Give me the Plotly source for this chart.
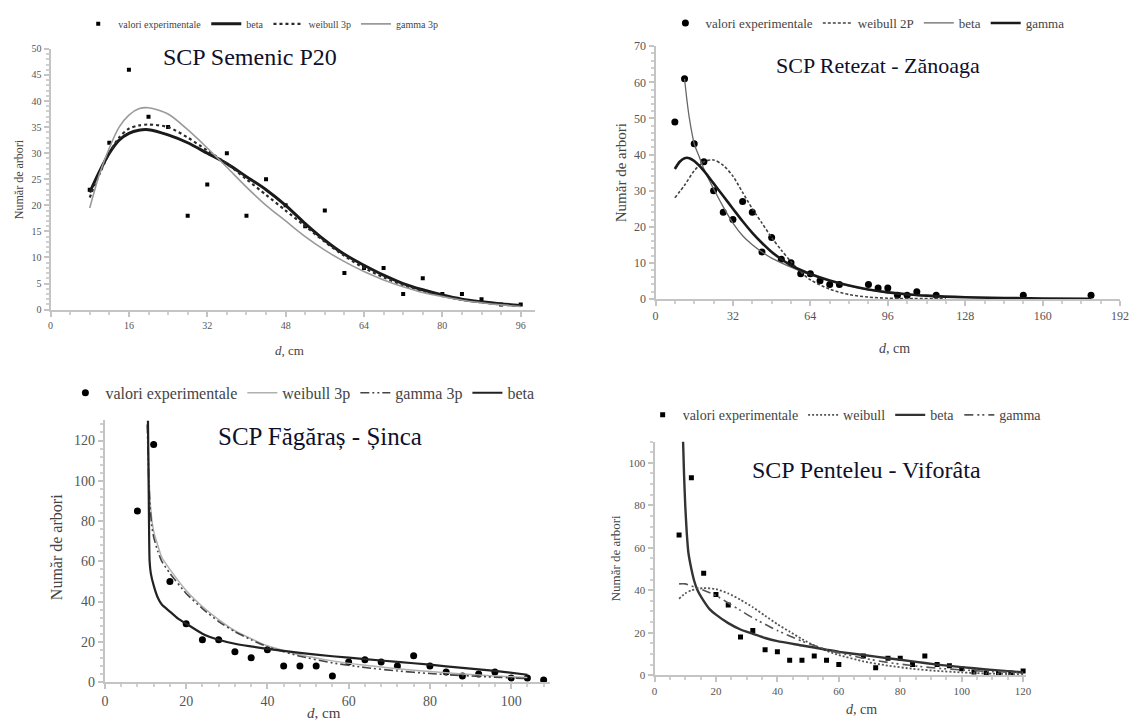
import plotly.graph_objects as go

# ---------------- Panel 1: SCP Semenic P20 ----------------
p1_d = [8, 12, 16, 20, 24, 28, 32, 36, 40, 44, 48, 52, 56, 60, 64, 68, 72, 76, 80, 84, 88, 92, 96]
p1_obs = [23, 32, 46, 37, 35, 18, 24, 30, 18, 25, 20, 16, 19, 7, 8, 8, 3, 6, 3, 3, 2, 1, 1]
p1_cx = [8, 10, 12, 14, 16, 18, 20, 24, 28, 32, 36, 40, 44, 48, 52, 56, 60, 64, 68, 72, 76, 80, 84, 88, 92, 96]
p1_beta = [22.5, 26.5, 30, 32.5, 33.8, 34.4, 34.5, 33.5, 32, 30, 28, 25.5, 23, 20, 16.5, 13.3, 10.6, 8.5, 6.6, 5, 3.8, 2.8, 2, 1.5, 1.1, 0.8]
p1_weib = [21.5, 26, 30, 33, 34.7, 35.3, 35.5, 35, 33, 30.5, 28, 25, 22, 19, 16, 13, 10.3, 8, 6.2, 4.7, 3.5, 2.6, 1.9, 1.4, 1, 0.7]
p1_gamma = [19.5, 26, 31, 35, 37.3, 38.5, 38.7, 37.5, 34.5, 31, 27.3, 23.5, 20, 17, 14, 11.4, 9.2, 7.3, 5.7, 4.4, 3.3, 2.5, 1.8, 1.3, 0.9, 0.6]

# ---------------- Panel 2: SCP Retezat - Zănoaga ----------------
p2_d = [8, 12, 16, 20, 24, 28, 32, 36, 40, 44, 48, 52, 56, 60, 64, 68, 72, 76, 88, 92, 96, 100, 104, 108, 116, 152, 180]
p2_obs = [49, 61, 43, 38, 30, 24, 22, 27, 24, 13, 17, 11, 10, 7, 7, 5, 4, 4, 4, 3, 3, 1, 1, 2, 1, 1, 1]
p2_wx = [8, 12, 16, 20, 24, 28, 32, 36, 40, 44, 48, 52, 56, 60, 64, 72, 80, 88, 96, 104, 120]
p2_weib = [28, 31.5, 35.5, 38, 38.5, 37, 34, 29.5, 25, 21, 17, 13.5, 10.3, 7.5, 5.3, 2.7, 1.2, 0.5, 0.2, 0.1, 0.05]
p2_bx = [12, 13, 14, 16, 18, 20, 24, 28, 32, 36, 40, 44, 48, 52, 56, 60, 64, 72, 80, 88, 96, 104, 112, 128, 160, 180]
p2_beta = [61, 55, 50, 43, 39.5, 36, 30.5, 25.5, 21, 17.5, 15, 13, 11.3, 10, 8.8, 7.7, 6.7, 5, 3.6, 2.5, 1.7, 1.2, 0.8, 0.4, 0.1, 0.05]
p2_gx = [8, 10, 12, 14, 16, 20, 24, 28, 32, 36, 40, 44, 48, 52, 56, 60, 64, 72, 80, 88, 96, 104, 112, 128, 160, 180]
p2_gamma = [36, 38, 39, 39, 38.2, 35.5, 32, 28.5, 25, 21.5, 18.3, 15.5, 13, 11, 9.3, 8, 6.9, 5.1, 3.7, 2.6, 1.8, 1.3, 0.9, 0.45, 0.12, 0.05]

# ---------------- Panel 3: SCP Făgăraș - Șinca ----------------
p3_d = [8, 12, 16, 20, 24, 28, 32, 36, 40, 44, 48, 52, 56, 60, 64, 68, 72, 76, 80, 84, 88, 92, 96, 100, 104, 108]
p3_obs = [85, 118, 50, 29, 21, 21, 15, 12, 16, 8, 8, 8, 3, 10, 11, 10, 8, 13, 8, 5, 3, 4, 5, 2, 2, 1]
p3_wx = [10.5, 10.7, 10.9, 11.2, 11.6, 12, 13, 14, 16, 20, 24, 28, 32, 36, 40, 48, 56, 64, 72, 80, 88, 96, 104]
p3_weib = [130, 115, 100, 88, 80, 75, 68, 62, 56, 45.5, 37.5, 31, 25.5, 21.5, 18, 13.5, 10.5, 8.3, 6.6, 5.2, 4, 3, 2.2]
p3_gx = [10.4, 10.6, 10.8, 11.1, 11.5, 12, 13, 14, 16, 20, 24, 28, 32, 36, 40, 48, 56, 64, 72, 80, 88, 96, 104]
p3_gamma = [128, 115, 100, 88, 78, 72, 65, 60, 54, 44, 36.5, 30, 25, 21, 17.5, 12.8, 9.5, 7.2, 5.5, 4.2, 3.2, 2.4, 1.7]
p3_bx = [10.6, 10.7, 10.8, 10.9, 11, 11.3, 12, 13, 14, 16, 18, 20, 24, 28, 32, 40, 48, 56, 64, 72, 80, 88, 96, 104]
p3_beta = [130, 110, 90, 70, 60, 54, 48, 42, 38.5, 35, 31.5, 29, 24, 21, 19, 16.5, 14.5, 12.8, 11.4, 10, 8.6, 7, 5.5, 3.6]

# ---------------- Panel 4: SCP Penteleu - Viforâta ----------------
p4_d = [8, 12, 16, 20, 24, 28, 32, 36, 40, 44, 48, 52, 56, 60, 68, 72, 76, 80, 84, 88, 92, 96, 100, 104, 108, 112, 116, 120]
p4_obs = [66, 93, 48, 38, 33, 18, 21, 12, 11, 7, 7, 9, 7, 5, 9, 3.5, 8, 8, 5, 9, 5, 4.5, 3, 1.5, 1, 1, 1, 2]
p4_wx = [8, 10, 12, 16, 20, 24, 28, 32, 36, 40, 44, 48, 52, 56, 60, 68, 76, 84, 92, 100, 108, 120]
p4_weib = [36, 38.5, 40, 41, 40.5, 38.5, 35.5, 32, 28, 24, 20.5, 17, 14, 11.5, 9.5, 6.5, 4.5, 3, 2, 1.3, 0.8, 0.4]
p4_bx = [9.3, 9.6, 10, 10.5, 11, 12, 13, 14, 16, 18, 20, 24, 28, 32, 36, 40, 48, 56, 60, 68, 76, 84, 92, 100, 108, 116, 120]
p4_beta = [110, 95, 80, 67, 58, 50, 44, 40, 35, 31, 28.5, 24.5, 21.5, 19.5, 17.5, 16, 14, 12, 11, 9.5, 8, 6.5, 5, 3.8, 2.7, 1.8, 1.3]
p4_gx = [8, 10, 12, 16, 20, 24, 28, 32, 36, 40, 44, 48, 52, 56, 60, 68, 76, 84, 92, 100, 108, 120]
p4_gamma = [43, 43, 42, 40, 37.5, 34, 30.5, 27, 24, 21, 18.5, 16, 14, 12, 10.5, 8, 6, 4.5, 3.3, 2.5, 1.8, 1.2]

titles = ["SCP Semenic P20", "SCP Retezat - Zănoaga", "SCP Făgăraș - Șinca", "SCP Penteleu - Viforâta"]
y_label = "Număr de arbori"
x_label = "<i>d</i>, cm"
obs_name = "valori experimentale"

# the page body keeps its default 8 px margin, so the figure is sized to fit the window
OFF = 8
W, H = 1137 - OFF, 727 - OFF
SERIF = "Liberation Serif"


def fx(p):
    return (p - OFF) / W


def fy(p):
    return 1 - (p - OFF) / H


fig = go.Figure()


def pts(x, y, n, size, symbol):
    fig.add_trace(go.Scatter(
        x=x, y=y, mode="markers", name=obs_name,
        marker=dict(color="black", size=size, symbol=symbol, line=dict(width=0)),
        xaxis="x" if n == 1 else f"x{n}", yaxis="y" if n == 1 else f"y{n}",
        legend="legend" if n == 1 else f"legend{n}"))


def curve(x, y, n, name, color, width, dash="solid", smoothing=0.8):
    fig.add_trace(go.Scatter(
        x=x, y=y, mode="lines", name=name,
        line=dict(color=color, width=width, dash=dash, shape="spline", smoothing=smoothing),
        xaxis="x" if n == 1 else f"x{n}", yaxis="y" if n == 1 else f"y{n}",
        legend="legend" if n == 1 else f"legend{n}"))


# Panel 1
pts(p1_d, p1_obs, 1, 4, "square")
curve(p1_cx, p1_beta, 1, "beta", "#1a1a1a", 3)
curve(p1_cx, p1_weib, 1, "weibull 3p", "#2a2a2a", 2.2, "3px,3px")
curve(p1_cx, p1_gamma, 1, "gamma 3p", "#9a9a9a", 1.6)

# Panel 2
pts(p2_d, p2_obs, 2, 7, "circle")
curve(p2_wx, p2_weib, 2, "weibull 2P", "#444444", 1.6, "3px,2px")
curve(p2_bx, p2_beta, 2, "beta", "#666666", 1.3)
curve(p2_gx, p2_gamma, 2, "gamma", "#1a1a1a", 2.6)

# Panel 3
pts(p3_d, p3_obs, 3, 7, "circle")
curve(p3_wx, p3_weib, 3, "weibull 3p", "#b0b0b0", 1.5, "solid", 0.5)
curve(p3_gx, p3_gamma, 3, "gamma 3p", "#444444", 1.6, "9px,3px,2px,3px,2px,3px", 0.5)
curve(p3_bx, p3_beta, 3, "beta", "#222222", 2.2, "solid", 0.5)

# Panel 4
pts(p4_d, p4_obs, 4, 5, "square")
curve(p4_wx, p4_weib, 4, "weibull", "#555555", 1.8, "2px,2px", 0.6)
curve(p4_bx, p4_beta, 4, "beta", "#333333", 2.4, "solid", 0.5)
curve(p4_gx, p4_gamma, 4, "gamma", "#555555", 1.6, "9px,4px,2px,3px,2px,4px", 0.6)

# axis geometry in window pixels
panels = [
    dict(x0=47, x1=537.5, yb=306.5, yt=38.7, xr=[0, 99], yr=[0, 50], xd=16, xm=4, yd=5, ym=1, fs=10),
    dict(x0=659, x1=1129, yb=295.5, yt=36, xr=[0, 192], yr=[0, 70], xd=32, xm=8, yd=10, ym=2, fs=12),
    dict(x0=102, x1=552, yb=689, yt=420.3, xr=[0, 109.5], yr=[0, 130], xd=20, xm=4, yd=20, ym=4, fs=14),
    dict(x0=658, x1=1034, yb=682, yt=442, xr=[0, 121], yr=[0, 110], xd=20, xm=5, yd=20, ym=5, fs=11),
]

layout = dict(
    width=W, height=H, margin=dict(l=0, r=0, t=0, b=0),
    paper_bgcolor="white", plot_bgcolor="white", showlegend=True,
    font=dict(family=SERIF, color="#333"),
)

for i, p in enumerate(panels, start=1):
    suf = "" if i == 1 else str(i)
    axcommon = dict(showgrid=False, zeroline=False, showline=True, linecolor="#c4c4c4", linewidth=2,
                    ticks="outside", ticklen=5, tickwidth=1.5, tickcolor="#c4c4c4",
                    tickfont=dict(family=SERIF, size=p["fs"], color="#555"))
    layout["xaxis" + suf] = dict(axcommon, domain=[fx(p["x0"]), fx(p["x1"])], range=p["xr"],
                                 anchor="y" + suf, tick0=0, dtick=p["xd"],
                                 minor=dict(ticks="outside", ticklen=3, tickcolor="#d0d0d0", dtick=p["xm"]))
    layout["yaxis" + suf] = dict(axcommon, domain=[fy(p["yb"]), fy(p["yt"])], range=p["yr"],
                                 anchor="x" + suf, tick0=0, dtick=p["yd"],
                                 minor=dict(ticks="outside", ticklen=3, tickcolor="#d0d0d0", dtick=p["ym"]))

legend_pos = [(75, 13, 10), (669, 12, 13), (62, 392, 16), (646, 415, 14)]
for i, (lx, ly, lfs) in enumerate(legend_pos, start=1):
    key = "legend" if i == 1 else f"legend{i}"
    layout[key] = dict(x=fx(lx), y=fy(ly), xanchor="left", yanchor="middle", orientation="h",
                       bgcolor="rgba(0,0,0,0)", itemwidth=30, tracegroupgap=0,
                       font=dict(family=SERIF, size=lfs, color="#444"))

fig.update_layout(**layout)

# titles
title_pos = [(249, 47, 24), (884, 56, 22), (320, 437, 25), (872, 471, 24)]
for t, (tx, ty, tfs) in zip(titles, title_pos):
    fig.add_annotation(text=t, x=fx(tx), y=fy(ty), xref="paper", yref="paper", showarrow=False,
                       xanchor="center", yanchor="middle", font=dict(family=SERIF, size=tfs, color="#10102a"))

# axis titles
ytitle_pos = [(15, 172.6, 12), (623.5, 166, 15), (53, 550, 16), (618, 562, 13)]
for (ax_, ay_, fs) in ytitle_pos:
    fig.add_annotation(text=y_label, x=fx(ax_), y=fy(ay_), xref="paper", yref="paper", showarrow=False,
                       textangle=-90, xanchor="center", yanchor="middle",
                       font=dict(family=SERIF, size=fs, color="#444"))
xtitle_pos = [(288.5, 349, 13), (901, 346, 14), (324, 721, 15), (867, 717, 14)]
for (ax_, ay_, fs) in xtitle_pos:
    fig.add_annotation(text=x_label, x=fx(ax_), y=fy(ay_), xref="paper", yref="paper", showarrow=False,
                       xanchor="center", yanchor="middle",
                       font=dict(family=SERIF, size=fs, color="#444"))

fig.write_html("out.html")
